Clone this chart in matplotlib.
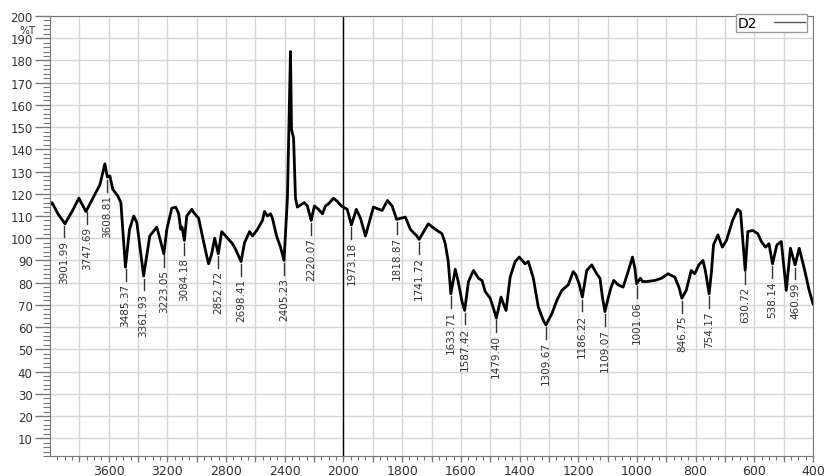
import numpy as np
import matplotlib
matplotlib.use('Agg')
import matplotlib.pyplot as plt
from matplotlib.lines import Line2D
from matplotlib.ticker import FixedLocator, FuncFormatter, MultipleLocator

######################################################################
# values

wavenumber = [
    4000, 3986, 3946, 3898, 3850, 3803, 3755, 3708, 3660, 3626,
    3609, 3592, 3572, 3538, 3517, 3486, 3458, 3429, 3408, 3362,
    3320, 3272, 3224, 3204, 3170, 3143, 3123, 3109, 3100, 3084,
    3068, 3034, 3014, 2987, 2960, 2932, 2919, 2898, 2878, 2853,
    2830, 2810, 2776, 2756, 2735, 2698, 2674, 2640, 2620, 2586,
    2552, 2538, 2518, 2497, 2484, 2456, 2429, 2405, 2382, 2361,
    2354, 2340, 2327, 2314, 2280, 2266, 2246, 2220, 2198, 2170,
    2143, 2123, 2102, 2068, 2041, 2014, 1987, 1973, 1956, 1942,
    1925, 1898, 1868, 1850, 1834, 1819, 1789, 1772, 1750, 1742,
    1711, 1687, 1664, 1653, 1643, 1634, 1619, 1609, 1596, 1587,
    1574, 1557, 1540, 1528, 1517, 1500, 1489, 1479, 1463, 1455,
    1446, 1432, 1415, 1401, 1381, 1370, 1353, 1336, 1319, 1310,
    1290, 1273, 1256, 1234, 1217, 1208, 1197, 1186, 1171, 1154,
    1137, 1126, 1117, 1109, 1098, 1089, 1079, 1064, 1047, 1030,
    1015, 1007, 1001, 988, 981, 967, 939, 916, 894, 871,
    857, 847, 832, 815, 803, 789, 775, 767, 754, 746,
    739, 724, 709, 695, 674, 657, 647, 631, 622, 605,
    588, 576, 562, 550, 538, 523, 508, 491, 477, 461,
    447, 430, 413, 400,
]

transmittance = [
    115.0, 116.0, 111.0, 106.5, 112.0, 118.0, 112.0, 118.0, 124.0, 133.5,
    127.5, 128.0, 122.0, 119.0, 116.0, 87.0, 104.0, 110.0, 107.0, 83.0,
    101.0, 105.0, 93.0, 104.0, 113.5, 114.0, 111.0, 104.0, 105.0, 99.0,
    110.0, 113.0, 111.0, 109.0, 100.5, 92.0, 88.5, 93.0, 100.0, 93.0,
    103.0, 101.5, 99.0, 97.5, 95.0, 89.5, 98.0, 103.0, 101.0, 104.0,
    108.0, 112.0, 110.0, 111.0, 109.0, 101.0, 96.0, 90.0, 118.0, 184.0,
    149.0, 145.0, 118.0, 114.0, 115.5, 116.0, 114.5, 108.0, 114.5, 113.0,
    111.0, 114.5, 115.5, 118.0, 116.5, 114.5, 113.0, 106.0, 113.0, 109.0,
    101.0, 114.0, 112.5, 117.0, 114.5, 108.5, 109.5, 104.0, 101.0, 99.5,
    106.5, 104.0, 102.0, 97.5, 89.5, 75.0, 86.0, 80.5, 71.5, 67.5,
    80.5, 85.5, 82.0, 81.0, 76.0, 73.0, 68.5, 64.0, 73.5, 70.5,
    67.5, 82.5, 89.5, 91.5, 88.5, 89.5, 82.0, 69.0, 63.0, 61.0,
    66.0, 72.0, 76.5, 79.0, 85.0, 83.5, 79.5, 73.5, 85.5, 88.0,
    84.0, 82.0, 73.0, 67.0, 73.0, 77.5, 81.0, 79.0, 78.0, 85.0,
    91.5, 86.5, 79.5, 82.0, 80.5, 80.5, 81.0, 82.0, 84.0, 82.5,
    78.0, 73.0, 76.5, 85.5, 84.0, 88.0, 90.0, 85.5, 75.0, 85.0,
    97.0, 101.5, 96.0, 99.0, 108.0, 113.0, 112.0, 85.5, 103.0, 103.5,
    102.0, 98.5, 96.0, 97.5, 88.5, 97.0, 98.5, 76.5, 95.5, 88.0,
    95.5, 86.5, 76.5, 70.5,
]

peak_labels = [
    3901.99, 3747.69, 3608.81, 3485.37, 3361.93, 3223.05, 3084.18,
    2852.72, 2698.41, 2405.23, 2220.07, 1973.18, 1818.87, 1741.72,
    1633.71, 1587.42, 1479.40, 1309.67, 1186.22, 1109.07, 1001.06,
    846.75, 754.17, 630.72, 538.14, 460.99,
]

x_tick_labels = [3600, 3200, 2800, 2400, 2000, 1800, 1600, 1400,
                 1200, 1000, 800, 600, 400]
y_tick_labels = list(range(10, 201, 10))

######################################################################
# the wavenumber axis is twice as stretched below 2000

def forward(w):
    w = np.asarray(w, dtype = float)
    return np.where(w >= 2000, w, 2 * w - 2000)

def inverse(u):
    u = np.asarray(u, dtype = float)
    return np.where(u >= 2000, u, (u + 2000) / 2)

######################################################################

fig = plt.figure(figsize = (8.25, 4.77), dpi = 100)
ax = fig.add_axes([50 / 825, 20 / 477, 763 / 825, 440 / 477])

ax.set_xscale('function', functions = (forward, inverse))
ax.set_xlim(4000, 400)
ax.set_ylim(2, 200)

grid_x = list(range(3800, 2000, -200)) + list(range(2000, 399, -100))
minor_x = list(range(3950, 2000, -50)) + list(range(1975, 400, -25))
ax.xaxis.set_major_locator(FixedLocator(grid_x))
ax.xaxis.set_minor_locator(FixedLocator(minor_x))
ax.xaxis.set_major_formatter(FuncFormatter(
    lambda v, pos: '%d' % round(v) if round(v) in x_tick_labels else ''))

ax.yaxis.set_major_locator(FixedLocator(y_tick_labels))
ax.yaxis.set_minor_locator(MultipleLocator(2))

ax.grid(True, which = 'major', color = '#d6d6d6', lw = 1)
ax.set_axisbelow(True)

ax.tick_params(axis = 'y', which = 'major', length = 11, width = 1,
               color = '#777777', labelsize = 8.5, labelcolor = '#333333', pad = 1.5)
ax.tick_params(axis = 'y', which = 'minor', length = 5, width = 0.8, color = '#777777')
ax.tick_params(axis = 'x', which = 'major', length = 4.5, width = 1,
               color = '#777777', labelsize = 9, labelcolor = '#333333', pad = 1)
ax.tick_params(axis = 'x', which = 'minor', length = 3, width = 0.8, color = '#777777')

for s in ax.spines.values():
    s.set_color('#777777')

ax.axvline(2000, color = 'black', lw = 1)

ax.plot(wavenumber, transmittance, color = 'black', lw = 2, solid_joinstyle = 'round')

wn = np.array(wavenumber[::-1], dtype = float)
tr = np.array(transmittance[::-1], dtype = float)
for v in peak_labels:
    y = np.interp(v, wn, tr)
    ax.plot([v, v], [y - 1.2, y - 6.5], color = '#333333', lw = 1)
    ax.text(v, y - 7.5, '%.2f' % v, rotation = 90, ha = 'center', va = 'top',
            fontsize = 7.5, color = '#333333')

ax.annotate('%T', xy = (0, 193.8), xycoords = ('axes fraction', 'data'),
            xytext = (-10.5, 0), textcoords = 'offset points',
            ha = 'right', va = 'center', fontsize = 7.5, color = '#333333')

ax.legend(handles = [Line2D([], [], color = '#555555', lw = 1)], labels = ['D2'],
          loc = 'upper right', bbox_to_anchor = (0.992, 1.005), markerfirst = False,
          fancybox = False, edgecolor = '#999999', framealpha = 1, fontsize = 10,
          handlelength = 2.2, handletextpad = 1.2, borderpad = 0.15, borderaxespad = 0)

fig.savefig('out.png', dpi = 100)
